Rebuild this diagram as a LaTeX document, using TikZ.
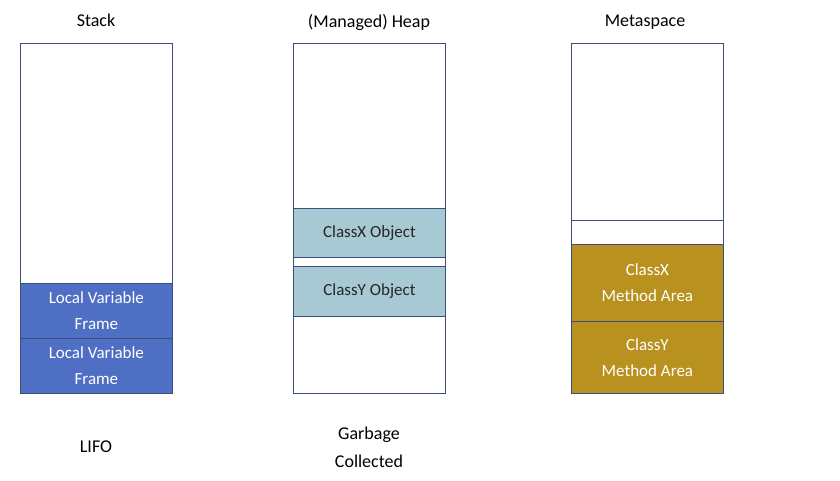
\documentclass[tikz,border=0pt]{standalone}
\usepackage{fontspec}
\setmainfont{Carlito}
\definecolor{framecol}{HTML}{4F6FC4}
\definecolor{objcol}{HTML}{A6C9D3}
\definecolor{methcol}{HTML}{B8911E}
\definecolor{edgecol}{HTML}{3B4F7A}
\tikzset{
  column/.style={draw=edgecol, line width=0.8pt, minimum width=152pt, minimum height=350pt, anchor=north west, inner sep=0pt},
  framebox/.style={draw=edgecol, line width=0.8pt, fill=framecol, text=white, minimum width=152pt, anchor=north west, inner sep=0pt, align=center},
  objbox/.style={draw=edgecol, line width=0.8pt, fill=objcol, text=black!85, minimum width=152pt, anchor=north west, inner sep=0pt, align=center},
  methbox/.style={draw=edgecol, line width=0.8pt, fill=methcol, text=white, minimum width=152pt, anchor=north west, inner sep=0pt, align=center},
  title/.style={font=\fontsize{18}{22}\selectfont, align=center}
}
\begin{document}
\begin{tikzpicture}[x=1pt, y=-1pt, font=\fontsize{17}{26}\selectfont]
  \useasboundingbox (0,0) rectangle (840,480);

  % Stack
  \node [column] (stack) at (20,43) {};
  \node [title] (stacktitle) at (96,20) {Stack};
  \node [framebox, minimum height=55pt] (frameA) at (20,283) {Local Variable\\Frame};
  \node [framebox, minimum height=55pt] (frameB) at (20,338) {Local Variable\\Frame};
  \node [title] (lifo) at (96,447) {LIFO};

  % Heap
  \node [column] (heap) at (293,43) {};
  \node [title] (heaptitle) at (369,22) {(Managed) Heap};
  \node [objbox, minimum height=49pt] (objX) at (293,208) {ClassX Object};
  \node [objbox, minimum height=50pt] (objY) at (293,266) {ClassY Object};
  \node [title, font=\fontsize{18}{28}\selectfont] (gc) at (369,447) {Garbage\\Collected};

  % Metaspace
  \node [column] (meta) at (571,43) {};
  \node [title] (metatitle) at (645,22) {Metaspace};
  \draw [edgecol, line width=0.8pt] (meta.west |- 0,220) -- (meta.east |- 0,220);
  \node [methbox, minimum height=77pt] (methX) at (571,244) {ClassX\\Method Area};
  \node [methbox, minimum height=72pt] (methY) at (571,321) {ClassY\\Method Area};
\end{tikzpicture}
\end{document}
